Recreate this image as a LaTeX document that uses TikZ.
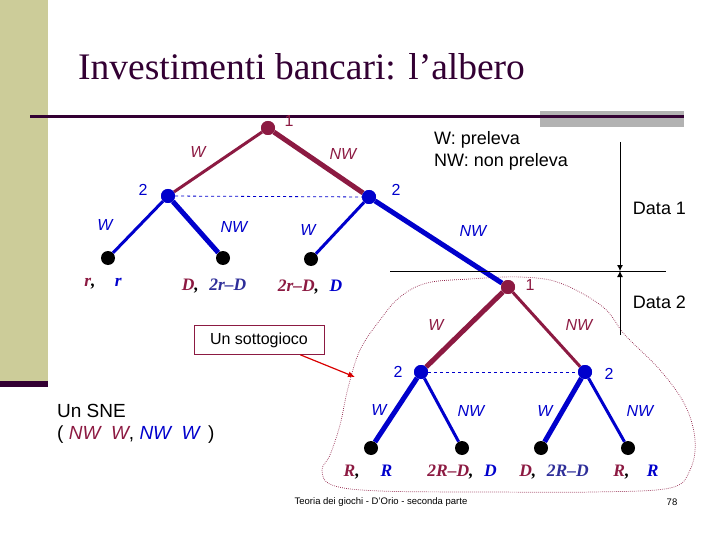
\documentclass[tikz,border=0pt]{standalone}
\usepackage{fontspec}
\setmainfont{Liberation Serif}
\setsansfont{Liberation Sans}
\usetikzlibrary{arrows.meta}
\definecolor{mar}{HTML}{8C1A42}
\definecolor{blu}{HTML}{0000CC}
\definecolor{indi}{HTML}{2E2E99}
\definecolor{olivebar}{HTML}{CCCC99}
\definecolor{dkp}{HTML}{330033}
\definecolor{grayb}{HTML}{B2B2B2}
\tikzset{
  mnode/.style={circle, fill=mar, minimum size=14pt, inner sep=0pt},
  bnode/.style={circle, fill=blu, minimum size=14pt, inner sep=0pt},
  leaf/.style={circle, fill=black, minimum size=14pt, inner sep=0pt},
  thinedge/.style={line width=3pt},
  thickedge/.style={line width=5pt},
  lab/.style={font=\sffamily\itshape\fontsize{16}{18}\selectfont, inner sep=0pt},
  numlab/.style={font=\sffamily\fontsize{16}{18}\selectfont, inner sep=0pt},
  pay/.style={font=\bfseries\itshape\fontsize{17.5}{20}\selectfont, inner sep=0pt},
  txt/.style={font=\sffamily\fontsize{18}{22}\selectfont, inner sep=0pt, align=left},
  info/.style={blu, dashed, line width=0.8pt},
}
\begin{document}
\begin{tikzpicture}[x=1pt,y=-1pt]
\useasboundingbox (0,0) rectangle (720,540);
% sidebar
\fill[olivebar] (0,0) rectangle (48,381);
\fill[dkp] (0,381) rectangle (48,387);
% title
\node[anchor=base west, font=\fontsize{37.5}{42}\selectfont, text=dkp, inner sep=0pt] (title) at (78,80) {Investimenti bancari: l’albero};
\fill[grayb] (540,111) rectangle (684,127);
\coordinate (hl1) at (30,117);
\coordinate (hl2) at (684,117);
\draw[dkp, line width=3pt] (hl1) -- (hl2);

% legend
\node[txt, anchor=north west] (legend) at (434,131) {W: preleva\\NW: non preleva};

% subgame outline
\draw[mar, line width=0.7pt, dash pattern=on 0.7pt off 1.3pt] plot[smooth cycle, tension=0.6] coordinates {
 (427,283) (470,279) (520,277) (560,283) (603,307) (625,335) (660,370) (685,405)
 (695,440) (690,470) (670,488) (593,492) (493,492) (380,491) (332,485) (322,470)
 (330,455) (340,425) (348,388) (360,350) (380,320) (400,297)};

% tree nodes
\node[mnode] (r) at (268,128) {};
\node[bnode] (a) at (168,196) {};
\node[bnode] (b) at (369,197) {};
\node[leaf] (a1) at (108,258) {};
\node[leaf] (a2) at (223,258) {};
\node[leaf] (b1) at (311,259) {};
\node[mnode] (c) at (508,287) {};
\node[bnode] (d) at (421,372) {};
\node[bnode] (e) at (585,372) {};
\node[leaf] (d1) at (371,448) {};
\node[leaf] (d2) at (462,448) {};
\node[leaf] (e1) at (541,448) {};
\node[leaf] (e2) at (628,448) {};

% info sets
\draw[info] (a) -- (b);
\draw[info] (d) -- (e);

% edges
\draw[mar, thinedge] (r) -- (a);
\draw[mar, thickedge] (r) -- (b);
\draw[blu, thinedge] (a) -- (a1);
\draw[blu, thickedge] (a) -- (a2);
\draw[blu, thinedge] (b) -- (b1);
\draw[blu, thickedge] (b) -- (c);
\draw[mar, thickedge] (c) -- (d);
\draw[mar, thinedge] (c) -- (e);
\draw[blu, thickedge] (d) -- (d1);
\draw[blu, thinedge] (d) -- (d2);
\draw[blu, thickedge] (e) -- (e1);
\draw[blu, thinedge] (e) -- (e2);
\node[mnode] at (r) {};
\node[bnode] at (a) {};
\node[bnode] at (b) {};
\node[mnode] at (c) {};
\node[bnode] at (d) {};
\node[bnode] at (e) {};

% player labels
\node[numlab, text=mar] (lr) at (289,121) {1};
\node[numlab, text=blu] (la) at (143,190) {2};
\node[numlab, text=blu] (lb) at (396,190) {2};
\node[numlab, text=mar] (lc) at (530,285) {1};
\node[numlab, text=blu] (ld) at (398,372) {2};
\node[numlab, text=blu] (le) at (609,374) {2};

% action labels
\node[lab, text=mar] at (198,152) {W};
\node[lab, text=mar] at (343,154) {NW};
\node[lab, text=blu] at (105,225) {W};
\node[lab, text=blu] at (234,227) {NW};
\node[lab, text=blu] at (308,230) {W};
\node[lab, text=blu] at (473,231) {NW};
\node[lab, text=mar] at (436,325) {W};
\node[lab, text=mar] at (579,325) {NW};
\node[lab, text=blu] at (379,410) {W};
\node[lab, text=blu] at (471,411) {NW};
\node[lab, text=blu] at (545,411) {W};
\node[lab, text=blu] at (640,411) {NW};

% payoffs
\node[pay] (p1) at (103,284) {\textcolor{mar}{r}\textcolor{black}{,}\hspace{1.1em}\textcolor{blu}{r}};
\node[pay] (p2) at (214,286) {\textcolor{mar}{D}\textcolor{black}{,}\hspace{0.6em}\textcolor{indi}{2r–D}};
\node[pay] (p3) at (310,287) {\textcolor{mar}{2r–D}\textcolor{black}{,}\hspace{0.6em}\textcolor{blu}{D}};
\node[pay] (p4) at (368,472) {\textcolor{mar}{R}\textcolor{black}{,}\hspace{1.2em}\textcolor{blu}{R}};
\node[pay] (p5) at (462,472) {\textcolor{mar}{2R–D}\textcolor{black}{,}\hspace{0.6em}\textcolor{blu}{D}};
\node[pay] (p6) at (554,472) {\textcolor{mar}{D}\textcolor{black}{,}\hspace{0.6em}\textcolor{indi}{2R–D}};
\node[pay] (p7) at (636,472) {\textcolor{mar}{R}\textcolor{black}{,}\hspace{1.0em}\textcolor{blu}{R}};

% dates
\coordinate (v1) at (620,142);
\coordinate (v2) at (620,271);
\coordinate (v3) at (620,335);
\coordinate (h1) at (390,271);
\coordinate (h2) at (666,271);
\draw[line width=0.8pt] (h1) -- (h2);
\draw[line width=0.8pt, -{Latex[length=6pt,width=6pt]}] (v1) -- (v2);
\draw[line width=0.8pt, -{Latex[length=6pt,width=6pt]}] (v3) -- (v2);
\node[txt] (d1lab) at (659.5,208) {Data 1};
\node[txt] (d2lab) at (659.5,302) {Data 2};

% subgame callout
\node[draw=mar, line width=0.6pt, font=\sffamily\fontsize{16}{18}\selectfont, minimum width=130pt, minimum height=29pt, inner sep=0pt] (sub) at (259,340) {Un sottogioco};
\coordinate (subtip) at (355,377);
\draw[red!85!black, line width=1.2pt, -{Latex[length=7pt,width=6pt]}] (sub.south east) ++(-24,0) -- (subtip);

% SNE
\node[font=\sffamily\fontsize{19}{22}\selectfont, inner sep=0pt, anchor=west, align=left] (sne) at (57,424) {Un SNE\\( \textcolor{mar}{\itshape NW\ \ W}, \textcolor{blu}{\itshape NW\ \ W} \,)};

% footer
\node[font=\sffamily\fontsize{9.5}{11}\selectfont, inner sep=0pt] (foot) at (381,502) {Teoria dei giochi - D'Orio - seconda parte};
\node[font=\sffamily\fontsize{9.5}{11}\selectfont, inner sep=0pt] (pg) at (672,502) {78};
\end{tikzpicture}
\end{document}
